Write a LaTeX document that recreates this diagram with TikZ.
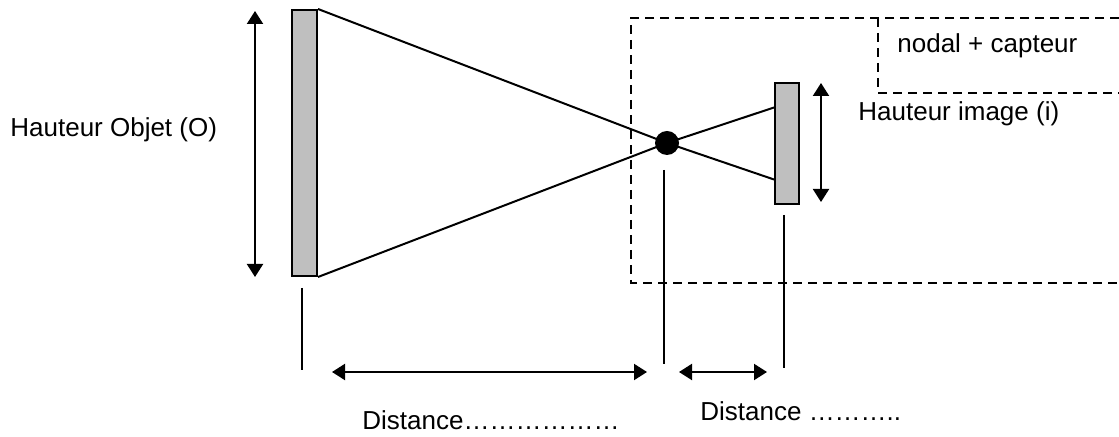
\documentclass[tikz,border=0pt]{standalone}
\usepackage{fontspec}
\setmainfont{Liberation Sans}
\usetikzlibrary{arrows.meta, positioning}
\tikzset{
    >={Triangle[length=6.5pt, width=8pt]}, % filled arrow heads
    plate/.style={draw, line width=1pt, fill=gray!50, inner sep=0pt}, % the grey bars
    ray/.style={line width=1pt}, % plain lines
    caption/.style={font=\fontsize{13}{15}\selectfont, inner sep=0pt, anchor=base west}, % texts
    boundary/.style={dash pattern=on 4.5pt off 3pt, line width=0.8pt}, % dashed frame
}

\begin{document}
\begin{tikzpicture}[x=0.5pt, y=-0.5pt]
    \useasboundingbox (0,0) rectangle (1119,437);
    % object, nodal point, image
    \node[plate, minimum width=12.5pt, minimum height=133pt] (obj) at (304.5,143) {};
    \node[plate, minimum width=12pt, minimum height=60.5pt] (img) at (787,143.5) {};
    \draw[ray] (obj.north east) -- (667,143) -- ([yshift=-18pt]img.west);
    \draw[ray] (obj.south east) -- (667,143) -- ([yshift=18pt]img.west);
    \node[circle, fill, minimum size=12pt, inner sep=0pt] (nodal) at (667,143) {};
    % heights
    \coordinate (objtop) at (255,11);
    \coordinate (objbot) at (255,277);
    \coordinate (imgtop) at (821,83);
    \coordinate (imgbot) at (821,202);
    \draw[<->, ray] (objtop) -- (objbot);
    \draw[<->, ray] (imgtop) -- (imgbot);
    \node[caption] (hobj) at (10,137) {Hauteur Objet (O)};
    \node[caption] (himg) at (858,121) {Hauteur image (i)};
    % dashed frame
    \draw[boundary] (1119,18) -- (631,18) -- (631,283) -- (1119,283);
    \draw[boundary] (878,18) -- (878,93) -- (1119,93);
    \node[caption] (cap) at (897,53) {nodal + capteur};
    % distances
    \foreach \x/\a/\b [count=\i] in {302/288/370, 664/170/364, 784/215/368}
        \draw[ray] (\x,\a) coordinate (t\i) -- (\x,\b);
    \coordinate (d1l) at (332,372);
    \coordinate (d1r) at (647,372);
    \coordinate (d2l) at (679,372);
    \coordinate (d2r) at (767,372);
    \draw[<->, ray] (d1l) -- (d1r);
    \draw[<->, ray] (d2l) -- (d2r);
    \node[caption] (dist1) at (362,430) {Distance………………};
    \node[caption] (dist2) at (700,421) {Distance ………..};
\end{tikzpicture}
\end{document}
